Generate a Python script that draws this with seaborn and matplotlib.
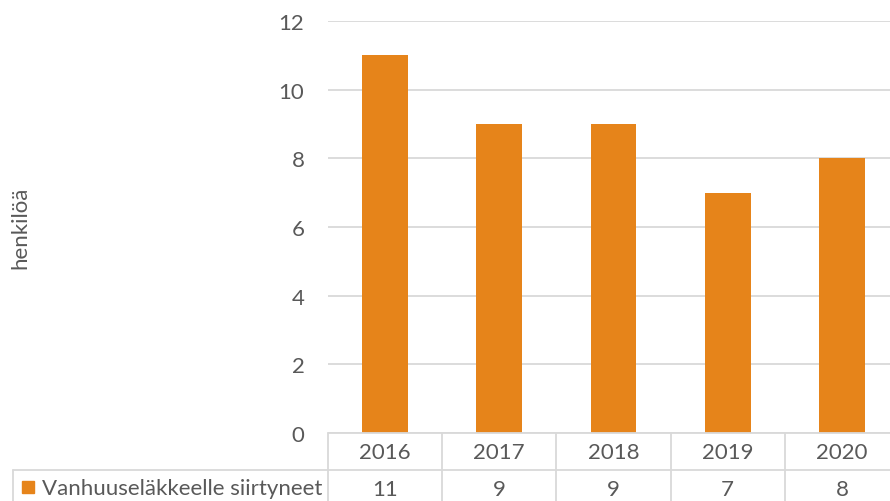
import pandas as pd
import matplotlib.pyplot as plt
import matplotlib.transforms as mtransforms
from matplotlib.patches import Rectangle
import seaborn as sns

# data
years = ["2016", "2017", "2018", "2019", "2020"]
values = [11, 9, 9, 7, 8]
series_name = "Vanhuuseläkkeelle siirtyneet"
y_ticks = [0, 2, 4, 6, 8, 10, 12]

sns.set_style("white")
plt.rcParams["font.family"] = ["Lato", "DejaVu Sans"]

bar_color = "#E6841A"
text_color = "#595959"
grid_color = "#D9D9D9"
fs = 16

W, H = 890, 502
fig = plt.figure(figsize=(W / 100, H / 100), dpi=100)

# plot area in pixels: left 328, right ~899 (cut off), top 22, bottom 434
left_px, right_px, top_px, bottom_px = 328, 899, 22, 434
ax = fig.add_axes([left_px / W, 1 - bottom_px / H,
                   (right_px - left_px) / W, (bottom_px - top_px) / H])

df = pd.DataFrame({"year": years, "value": values})
sns.barplot(data=df, x="year", y="value", color=bar_color, width=0.4,
            saturation=1, linewidth=0, ax=ax, zorder=3)

ax.set_ylim(0, 12)
ax.set_xlim(-0.5, len(years) - 0.5)
ax.set_yticks(y_ticks)
ax.set_yticklabels([str(t) for t in y_ticks], fontsize=fs, color=text_color)
ax.tick_params(axis="y", length=0, pad=17)
ax.set_xticks([])
ax.set_xlabel("")
ax.set_ylabel("")
for s in ax.spines.values():
    s.set_visible(False)
ax.yaxis.grid(True, color=grid_color, linewidth=1.3, zorder=0)
ax.set_axisbelow(True)

fig.text(20 / W, 1 - 228 / H, "henkilöä", rotation=90, ha="center", va="center",
         fontsize=fs, color=text_color)

# data table below the axis
trans = mtransforms.blended_transform_factory(ax.transData, fig.transFigure)
fy = lambda px: 1 - px / H
fx = lambda px: px / W
lw = 1.3
row1_bot = 471

# horizontal lines
fig.add_artist(plt.Line2D([fx(left_px), 1.01], [fy(bottom_px)] * 2, color=grid_color, lw=lw))
fig.add_artist(plt.Line2D([fx(13), 1.01], [fy(row1_bot)] * 2, color=grid_color, lw=lw))
# vertical lines
for i in range(len(years) + 1):
    ax.add_artist(plt.Line2D([i - 0.5] * 2, [fy(bottom_px), fy(H + 5)], color=grid_color,
                             lw=lw, transform=trans, clip_on=False))
fig.add_artist(plt.Line2D([fx(13)] * 2, [fy(row1_bot), fy(H + 5)], color=grid_color, lw=lw))

for i, (yr, v) in enumerate(zip(years, values)):
    ax.text(i, fy(453), yr, transform=trans, ha="center", va="center",
            fontsize=fs, color=text_color, clip_on=False)
    ax.text(i, fy(490), str(v), transform=trans, ha="center", va="center",
            fontsize=fs, color=text_color, clip_on=False)

# legend key + series name
fig.add_artist(Rectangle((fx(22), fy(494)), 12 / W, 12 / H, color=bar_color,
                         transform=fig.transFigure))
fig.text(fx(42), fy(489), series_name, ha="left", va="center",
         fontsize=fs, color=text_color)

plt.savefig("out.png", dpi=100)
